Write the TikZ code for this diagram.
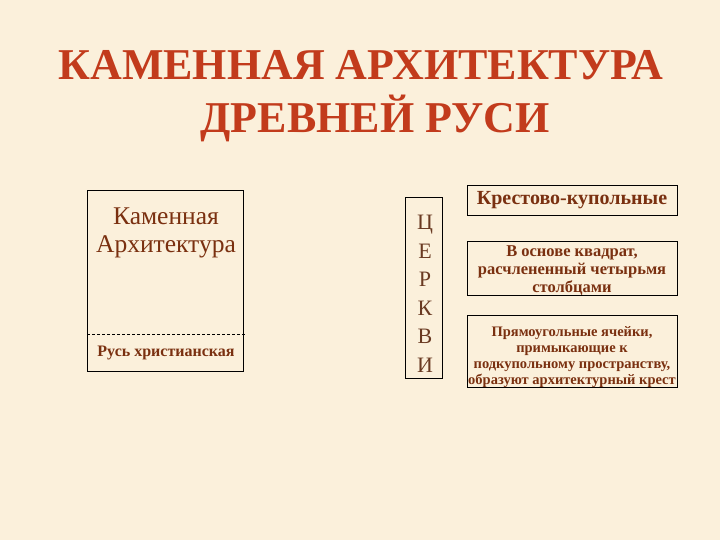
\documentclass[tikz,border=0pt]{standalone}
\usepackage{fontspec}
\setmainfont{Liberation Serif}
\definecolor{bgc}{HTML}{FBF0DB}
\definecolor{titlec}{HTML}{C23B1C}
\definecolor{brownc}{HTML}{7A3010}
\definecolor{darkc}{HTML}{6A3A22}
\begin{document}
\begin{tikzpicture}[x=1pt,y=-1pt,
  box/.style={draw=black, line width=0.9pt, inner sep=0pt},
  titletext/.style={text=titlec, font=\fontsize{44}{53}\selectfont\bfseries, anchor=base, inner sep=0pt},
  btext/.style={text=brownc, align=center, inner sep=0pt},
  letter/.style={text=darkc, font=\fontsize{22}{26}\selectfont, anchor=base, inner sep=0pt}]
\fill[bgc] (0,0) rectangle (720,540);
\useasboundingbox (0,0) rectangle (720,540);
% title
\node[titletext] (t1) at (361,80) {КАМЕННАЯ АРХИТЕКТУРА};
\node[titletext] (t2) at (375,133) {ДРЕВНЕЙ РУСИ};
% left box
\node[box, minimum width=156pt, minimum height=181pt] (lbox) at (165,280.5) {};
\coordinate (dl) at (87,334);
\coordinate (dr) at (246,334);
\draw[black, line width=0.8pt, dash pattern=on 3pt off 2pt] (dl) -- (dr);
\node[btext, font=\fontsize{25.5}{28}\selectfont] (kam) at (166,233) {Каменная\\Архитектура};
\node[btext, font=\fontsize{16}{19}\selectfont\bfseries] (rus) at (166,353) {Русь христианская};
% churches column
\node[box, minimum width=37pt, minimum height=181pt] (cbox) at (423.5,287.5) {};
\foreach \l [count=\i] in {Ц,Е,Р,К,В,И}
  \node[letter] (c\i) at (425,{229.5+28.6*(\i-1)}) {\l};
% right boxes
\node[box, minimum width=210pt, minimum height=30pt] (r1) at (572,200) {};
\node[btext, font=\fontsize{20}{22}\selectfont\bfseries] (r1t) at (572,200) {Крестово-купольные};
\node[box, minimum width=210pt, minimum height=54pt] (r2) at (572,268) {};
\node[btext, font=\fontsize{16.5}{18}\selectfont\bfseries] (r2t) at (572,271) {В основе квадрат,\\расчлененный четырьмя\\столбцами};
\node[box, minimum width=210pt, minimum height=72pt] (r3) at (572,351) {};
\node[btext, font=\fontsize{14.5}{16}\selectfont\bfseries] (r3t) at (572,357) {Прямоугольные ячейки,\\примыкающие к\\подкупольному пространству,\\образуют архитектурный крест};
\end{tikzpicture}
\end{document}
